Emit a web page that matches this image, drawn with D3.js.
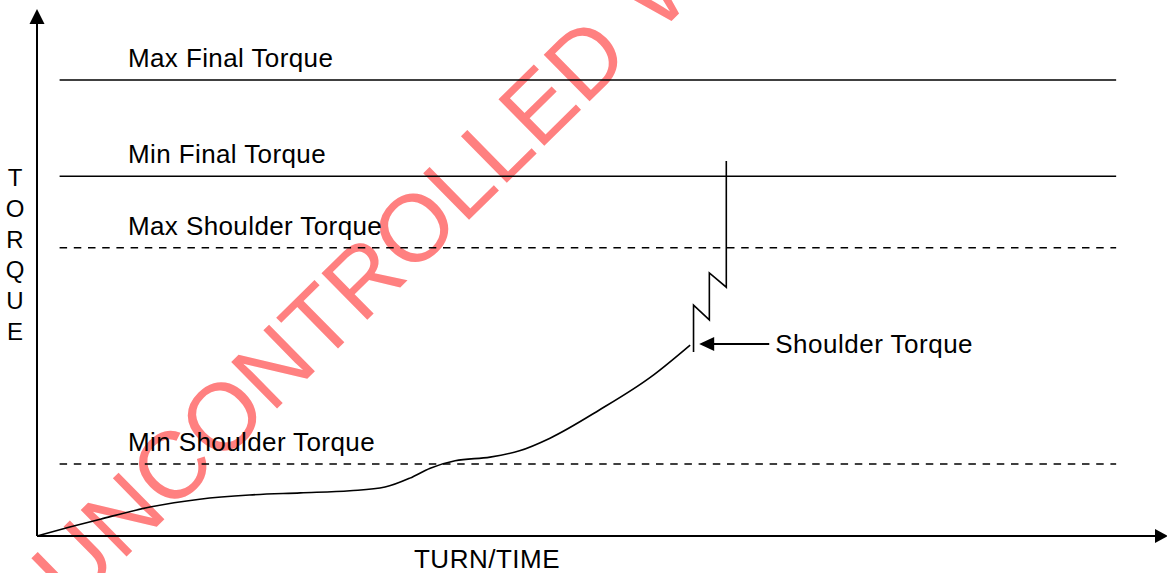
<!DOCTYPE html>
<html>
<head>
<meta charset="utf-8">
<script src="https://cdn.jsdelivr.net/npm/d3@7"></script>
<style>
  body { margin: 0; background: #fff; }
  svg { display: block; font-family: Arial, "Liberation Sans", sans-serif; }
</style>
</head>
<body>
<svg></svg>
<script>
const width = 1167;
const height = 573;

// torque limit lines
const limitNames = ["Max Final Torque", "Min Final Torque", "Max Shoulder Torque", "Min Shoulder Torque"];
const limitValues = [86.7, 68.4, 54.8, 13.7];
const limitDashed = [false, false, true, true];
const limitStart = 2.0;
const limitEnd = 95.5;

// rundown curve (turn vs torque)
const curveTurn = [0, 2.9, 5.6, 10.0, 14.4, 18.8, 23.3, 27.7, 30.8, 33.0, 34.8, 37.0, 40.1, 42.7, 45.4, 49.8, 54.3, 57.8];
const curveTorque = [0, 1.7, 3.2, 5.5, 7.0, 7.8, 8.2, 8.6, 9.3, 11.0, 12.9, 14.3, 15.0, 16.2, 18.6, 24.0, 30.2, 36.3];

// stepping after the shoulder point
const stepTurn = [58.1, 58.1, 59.5, 59.5, 61.0, 61.0];
const stepTorque = [35.0, 43.9, 41.1, 50.0, 47.3, 71.3];

// shoulder annotation
const shoulderLabel = "Shoulder Torque";
const shoulderTurn = [58.6, 64.8];
const shoulderTorque = 36.5;

const yLetters = ["T", "O", "R", "Q", "U", "E"];
const xTitle = "TURN/TIME";
const watermark = "UNCONTROLLED WHEN PRINTED";

const svg = d3.select("svg")
  .attr("width", width)
  .attr("height", height);

const x = d3.scaleLinear().domain([0, 100]).range([37, 1167]);
const y = d3.scaleLinear().domain([0, 100]).range([536, 10]);

// watermark sits behind everything
svg.append("text")
  .attr("transform", "translate(72,610) rotate(-44.5)")
  .attr("font-size", 95)
  .attr("word-spacing", 8)
  .attr("fill", "#ff8080")
  .text(watermark);

// axes with arrow heads
svg.append("line")
  .attr("x1", x(0)).attr("y1", y(0))
  .attr("x2", x(0)).attr("y2", y(100) + 10)
  .attr("stroke", "black").attr("stroke-width", 2);
svg.append("path")
  .attr("d", `M${x(0)},${y(100) - 1} L${x(0) - 7.5},${y(100) + 14} L${x(0) + 7.5},${y(100) + 14} Z`)
  .attr("fill", "black");

svg.append("line")
  .attr("x1", x(0)).attr("y1", y(0))
  .attr("x2", x(100) - 10).attr("y2", y(0))
  .attr("stroke", "black").attr("stroke-width", 2);
svg.append("path")
  .attr("d", `M${x(100) + 1},${y(0)} L${x(100) - 12},${y(0) - 7} L${x(100) - 12},${y(0) + 7} Z`)
  .attr("fill", "black");

// limit lines and labels
const limits = limitNames.map((name, i) => ({ name, value: limitValues[i], dashed: limitDashed[i] }));

svg.selectAll(".limit")
  .data(limits)
  .enter().append("line")
  .attr("class", "limit")
  .attr("x1", x(limitStart))
  .attr("x2", x(limitEnd))
  .attr("y1", d => y(d.value))
  .attr("y2", d => y(d.value))
  .attr("stroke", "black")
  .attr("stroke-width", 1.6)
  .attr("stroke-dasharray", d => d.dashed ? "7.5,6.7" : null);

svg.selectAll(".limit-label")
  .data(limits)
  .enter().append("text")
  .attr("class", "limit-label")
  .attr("x", x(8.05))
  .attr("y", d => y(d.value) - 13)
  .attr("font-size", 26)
  .attr("letter-spacing", 0.4)
  .text(d => d.name);

// rundown curve
const line = d3.line()
  .x(d => x(d[0]))
  .y(d => y(d[1]))
  .curve(d3.curveMonotoneX);

svg.append("path")
  .datum(curveTurn.map((t, i) => [t, curveTorque[i]]))
  .attr("d", line)
  .attr("fill", "none")
  .attr("stroke", "black")
  .attr("stroke-width", 1.6);

svg.append("path")
  .datum(stepTurn.map((t, i) => [t, stepTorque[i]]))
  .attr("d", d3.line().x(d => x(d[0])).y(d => y(d[1])))
  .attr("fill", "none")
  .attr("stroke", "black")
  .attr("stroke-width", 1.6);

// shoulder arrow
const ay = y(shoulderTorque);
svg.append("line")
  .attr("x1", x(shoulderTurn[0]) + 12).attr("y1", ay)
  .attr("x2", x(shoulderTurn[1])).attr("y2", ay)
  .attr("stroke", "black").attr("stroke-width", 2);
svg.append("path")
  .attr("d", `M${x(shoulderTurn[0])},${ay} L${x(shoulderTurn[0]) + 15},${ay - 7} L${x(shoulderTurn[0]) + 15},${ay + 7} Z`)
  .attr("fill", "black");
svg.append("text")
  .attr("x", x(shoulderTurn[1]) + 6)
  .attr("y", ay + 9)
  .attr("font-size", 26)
  .attr("letter-spacing", 0.5)
  .text(shoulderLabel);

// axis titles
svg.selectAll(".y-letter")
  .data(yLetters)
  .enter().append("text")
  .attr("class", "y-letter")
  .attr("x", 15)
  .attr("y", (d, i) => 186 + i * 30.8)
  .attr("text-anchor", "middle")
  .attr("font-size", 24)
  .text(d => d);

svg.append("text")
  .attr("x", 487)
  .attr("y", 568)
  .attr("text-anchor", "middle")
  .attr("font-size", 26)
  .attr("letter-spacing", 0.5)
  .text(xTitle);
</script>
</body>
</html>
